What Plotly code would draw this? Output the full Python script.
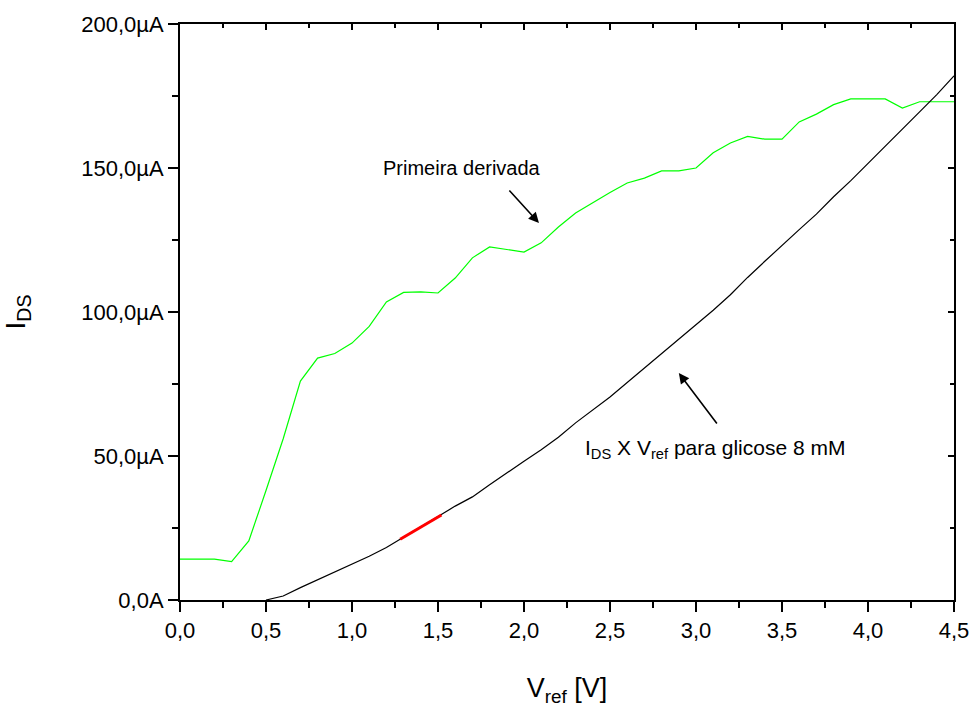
import plotly.graph_objects as go

# ---- data ----
v_deriv = [0.0, 0.1, 0.2, 0.3, 0.4, 0.5, 0.6, 0.7, 0.8, 0.9, 1.0, 1.1, 1.2, 1.3, 1.4, 1.5,
           1.6, 1.7, 1.8, 1.9, 2.0, 2.1, 2.2, 2.3, 2.4, 2.5, 2.6, 2.7, 2.8, 2.9, 3.0,
           3.1, 3.2, 3.3, 3.4, 3.5, 3.6, 3.7, 3.8, 3.9, 4.0, 4.1, 4.2, 4.3, 4.4, 4.5]
i_deriv = [14.2, 14.2, 14.2, 13.3, 20.5, 38.0, 56.0, 76.0, 84.0, 85.6, 89.2, 95.0, 103.5, 106.8, 107.0, 106.6,
           111.8, 118.8, 122.6, 121.7, 120.8, 124.0, 129.5, 134.4, 138.0, 141.5, 144.8, 146.5, 149.0, 149.0, 150.0,
           155.3, 158.7, 161.0, 160.0, 160.0, 166.0, 168.7, 172.0, 174.0, 174.0, 174.0, 170.8, 173.0, 173.0, 173.0]

v_ids = [0.5, 0.6, 0.7, 0.8, 0.9, 1.0, 1.1, 1.2, 1.3, 1.4, 1.5, 1.6, 1.7, 1.8, 1.9, 2.0,
         2.1, 2.2, 2.3, 2.4, 2.5, 2.6, 2.7, 2.8, 2.9, 3.0, 3.1, 3.2, 3.3, 3.4, 3.5,
         3.6, 3.7, 3.8, 3.9, 4.0, 4.1, 4.2, 4.3, 4.4, 4.5]
i_ids = [0.0, 1.4, 4.3, 7.0, 9.8, 12.4, 15.2, 18.2, 21.7, 25.4, 29.0, 32.6, 35.8, 40.0, 44.2, 48.2,
         52.2, 56.5, 61.5, 66.0, 70.5, 75.5, 80.5, 85.6, 90.7, 95.8, 100.6, 106.0, 112.0, 117.6, 123.2,
         128.6, 134.0, 140.0, 145.6, 151.5, 157.5, 163.5, 169.5, 175.5, 182.0]

v_fit = [1.28, 1.40, 1.52]
i_fit = [21.1, 25.3, 29.5]

x_tickvals = [0.0, 0.5, 1.0, 1.5, 2.0, 2.5, 3.0, 3.5, 4.0, 4.5]
x_ticktext = ["0,0", "0,5", "1,0", "1,5", "2,0", "2,5", "3,0", "3,5", "4,0", "4,5"]
x_minor = [0.25, 0.75, 1.25, 1.75, 2.25, 2.75, 3.25, 3.75, 4.25]
y_tickvals = [0, 50, 100, 150, 200]
y_ticktext = ["0,0A", "50,0µA", "100,0µA", "150,0µA", "200,0µA"]
y_minor = [25, 75, 125, 175]

FONT = "Liberation Sans, Arial, sans-serif"

fig = go.Figure()
fig.add_trace(go.Scatter(x=v_deriv, y=i_deriv, mode="lines",
                         line=dict(color="#00FF00", width=1.2), showlegend=False))
fig.add_trace(go.Scatter(x=v_ids, y=i_ids, mode="lines",
                         line=dict(color="#000000", width=1.2), showlegend=False))
fig.add_trace(go.Scatter(x=v_fit, y=i_fit, mode="lines",
                         line=dict(color="#FF0000", width=3), showlegend=False))
# invisible trace to anchor mirror axes
fig.add_trace(go.Scatter(x=[0], y=[0], xaxis="x2", yaxis="y2", mode="markers",
                         marker=dict(opacity=0), showlegend=False, hoverinfo="skip"))

axis_common = dict(showline=True, linecolor="black", linewidth=2, showgrid=False,
                   zeroline=False, tickcolor="black", tickwidth=2, automargin=False)

fig.update_layout(
    width=976, height=715,
    margin=dict(l=180, r=22, t=24, b=115),
    paper_bgcolor="white", plot_bgcolor="white",
    font=dict(family=FONT, color="black", size=21),
    xaxis=dict(range=[0, 4.5], tickmode="array", tickvals=x_tickvals, ticktext=x_ticktext,
               ticks="outside", ticklen=10,
               minor=dict(tickvals=x_minor, ticks="outside", ticklen=6, tickcolor="black", tickwidth=2),
               tickfont=dict(size=22),
               title=dict(text="V<sub>ref</sub> [V]", font=dict(size=27), standoff=36),
               **axis_common),
    yaxis=dict(range=[0, 200], tickmode="array", tickvals=y_tickvals, ticktext=y_ticktext,
               ticks="outside", ticklen=10,
               minor=dict(tickvals=y_minor, ticks="outside", ticklen=6, tickcolor="black", tickwidth=2),
               tickfont=dict(size=22),
               title=dict(text="I<sub>DS</sub>", font=dict(size=28), standoff=48),
               **axis_common),
    xaxis2=dict(overlaying="x", side="top", range=[0, 4.5], tickmode="array", tickvals=x_tickvals,
                showticklabels=False, ticks="inside", ticklen=6,
                minor=dict(tickvals=x_minor, ticks="inside", ticklen=4, tickcolor="black", tickwidth=2),
                **axis_common),
    yaxis2=dict(overlaying="y", side="right", range=[0, 200], tickmode="array", tickvals=y_tickvals,
                showticklabels=False, ticks="inside", ticklen=6,
                minor=dict(tickvals=y_minor, ticks="inside", ticklen=4, tickcolor="black", tickwidth=2),
                **axis_common),
)

fig.add_annotation(x=1.64, y=150, xref="x", yref="y", text="Primeira derivada",
                   showarrow=False, font=dict(size=20))
fig.add_annotation(x=2.087, y=130.9, ax=1.907, ay=142.7, xref="x", yref="y",
                   axref="x", ayref="y", text="", showarrow=True,
                   arrowhead=2, arrowsize=1.3, arrowwidth=1.6, arrowcolor="black")
fig.add_annotation(x=3.11, y=52.5, xref="x", yref="y",
                   text="I<sub>DS</sub> X V<sub>ref</sub> para glicose 8 mM",
                   showarrow=False, font=dict(size=21))
fig.add_annotation(x=2.90, y=78.8, ax=3.128, ay=60.8, xref="x", yref="y",
                   axref="x", ayref="y", text="", showarrow=True,
                   arrowhead=2, arrowsize=1.3, arrowwidth=1.6, arrowcolor="black")

fig.write_html("out.html")
